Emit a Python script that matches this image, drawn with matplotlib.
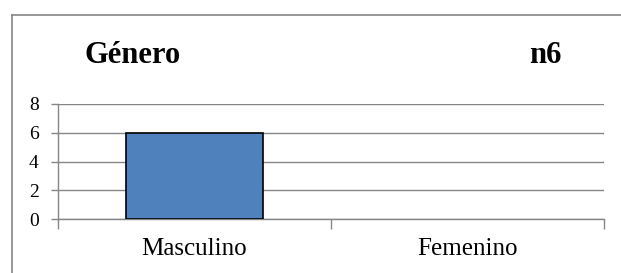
import matplotlib
matplotlib.use("Agg")
import matplotlib.pyplot as plt
from matplotlib.lines import Line2D
import numpy as np

categories = ["Masculino", "Femenino"]
values = [6, 0]
y_ticks = [0, 2, 4, 6, 8]
title = "Género"
sample_label = "n6"

plt.rcParams["font.family"] = ["Liberation Serif", "DejaVu Serif"]

fig = plt.figure(figsize=(6.21, 2.73), dpi=100)
ax = fig.add_axes([58 / 621, 1 - 219 / 273, (604 - 58) / 621, (219 - 104) / 273])

grid_color = "#868686"
x = np.arange(len(categories))
# empty categories get no outline (nothing drawn in the original)
edge_widths = [1.2 if v > 0 else 0 for v in values]
ax.bar(x, values, width=0.5, color="#4F81BD", edgecolor="black",
       linewidth=edge_widths, zorder=3)

ax.set_xlim(-0.5, len(categories) - 0.5)
ax.set_ylim(0, 8)
ax.set_yticks(y_ticks)
ax.set_yticklabels([str(v) for v in y_ticks], fontsize=14)
ax.yaxis.grid(True, color=grid_color, linewidth=1)
ax.set_axisbelow(True)

# category boundaries as major ticks, labels on minor ticks
ax.set_xticks(np.arange(-0.5, len(categories), 1.0))
ax.set_xticklabels([])
ax.set_xticks(x, minor=True)
ax.set_xticklabels(categories, minor=True, fontsize=18)
ax.tick_params(axis="x", which="major", length=7, color=grid_color, width=1)
ax.tick_params(axis="x", which="minor", length=0, pad=14)
ax.tick_params(axis="y", length=5, color=grid_color, width=1, pad=9)

for side in ["top", "right"]:
    ax.spines[side].set_visible(False)
for side in ["left", "bottom"]:
    ax.spines[side].set_color(grid_color)
    ax.spines[side].set_linewidth(1)

fig.text(84 / 621, 1 - 56 / 273, title, fontsize=22, fontweight="bold", va="center", ha="left")
fig.text(545 / 621, 1 - 56 / 273, sample_label, fontsize=22, fontweight="bold", va="center", ha="center")

# outer chart-area border (only left and top visible in crop)
fig.add_artist(Line2D([12 / 621, 12 / 621], [0, 1 - 15 / 273], color=grid_color, linewidth=1.2))
fig.add_artist(Line2D([12 / 621, 1], [1 - 15 / 273, 1 - 15 / 273], color=grid_color, linewidth=1.2))

fig.savefig("out.png", dpi=100)
